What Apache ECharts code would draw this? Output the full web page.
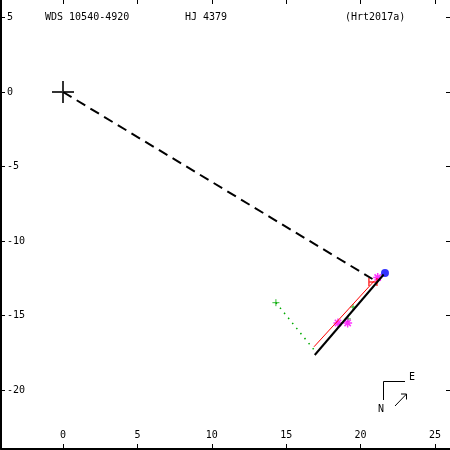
<!DOCTYPE html>
<html><head><meta charset="utf-8">
<script src="https://cdn.jsdelivr.net/npm/echarts@6/dist/echarts.min.js"></script>
<style>html,body{margin:0;padding:0;background:#fff}#c{width:450px;height:450px}</style>
</head><body><div id="c"></div>
<script>
var xTicks = [0, 5, 10, 15, 20, 25];
var yTicks = [5, 0, -5, -10, -15, -20];
var origin = [[0, 0]];
var dashedLine = [[0, 0], [20.8, -12.55]];
var primary = [[21.64, -12.15]];
var orbitArc = [[16.92, -17.65], [21.55, -12.25]];
var redLine = [[16.87, -17.1], [20.9, -12.7]];
var redMark = [[20.83, -12.75]];
var magentaStars = [[18.48, -15.5], [19.13, -15.5], [21.15, -12.45]];
var greenPlus = [[14.31, -14.14]];
var greenDotted = [[14.31, -14.14], [16.87, -17.3]];
var greenMarks = [[19.49, -14.43], [19.15, -15.23]];

var font = 'DejaVu Sans Mono';
var chart = echarts.init(document.getElementById('c'));
var lineStyleOnly = function (c, w) { return { color: 'none', borderColor: c, borderWidth: w }; };
chart.setOption({
  animation: false,
  backgroundColor: '#fff',
  grid: { left: 1, right: 0, top: 0, bottom: 1 },
  xAxis: [
    { type: 'value', position: 'bottom', min: -4.167, max: 26.01,
      axisLine: { show: true, onZero: false, lineStyle: { color: '#000', width: 2 } },
      axisTick: { show: true, inside: true, length: 5, customValues: xTicks, lineStyle: { color: '#000' } },
      axisLabel: { show: true, inside: true, margin: 9, customValues: xTicks, color: '#000', fontFamily: font, fontSize: 10 },
      splitLine: { show: false } },
    { type: 'value', position: 'top', min: -4.167, max: 26.01,
      axisLine: { show: false, onZero: false },
      axisTick: { show: true, inside: true, length: 4, customValues: xTicks, lineStyle: { color: '#000' } },
      axisLabel: { show: false }, splitLine: { show: false } }
  ],
  yAxis: [
    { type: 'value', position: 'left', min: -23.96, max: 6.174,
      axisLine: { show: true, onZero: false, lineStyle: { color: '#000', width: 2 } },
      axisTick: { show: true, inside: true, length: 4, customValues: yTicks, lineStyle: { color: '#000' } },
      axisLabel: { show: true, inside: true, margin: 6, customValues: yTicks, color: '#000', fontFamily: font, fontSize: 10 },
      splitLine: { show: false } },
    { type: 'value', position: 'right', min: -23.96, max: 6.174,
      axisLine: { show: false, onZero: false },
      axisTick: { show: true, inside: true, length: 4, customValues: yTicks, lineStyle: { color: '#000' } },
      axisLabel: { show: false }, splitLine: { show: false } }
  ],
  series: [
    { type: 'line', data: dashedLine, symbol: 'none', lineStyle: { color: '#000', width: 2, type: [10, 6] } },
    { type: 'line', data: greenDotted, symbol: 'none', lineStyle: { color: '#00aa00', width: 1.5, type: [1.5, 5] } },
    { type: 'line', data: orbitArc, symbol: 'none', lineStyle: { color: '#000', width: 2 } },
    { type: 'line', data: redLine, symbol: 'none', lineStyle: { color: '#ff0000', width: 1 } },
    { type: 'scatter', data: origin, symbol: 'path://M0,10 L20,10 M10,0 L10,20', symbolSize: 22, itemStyle: lineStyleOnly('#000', 2) },
    { type: 'scatter', data: greenPlus, symbol: 'path://M0,5 L10,5 M5,0 L5,10', symbolSize: 7, itemStyle: lineStyleOnly('#00aa00', 1) },
    { type: 'scatter', data: greenMarks, symbol: 'path://M0,5 L10,5 M5,0 L5,10', symbolSize: 6, itemStyle: lineStyleOnly('#00aa00', 1) },
    { type: 'scatter', data: magentaStars, symbol: 'path://M0,5 L10,5 M5,0 L5,10 M1.5,1.5 L8.5,8.5 M8.5,1.5 L1.5,8.5', symbolSize: 9, itemStyle: lineStyleOnly('#ff00ff', 1.5) },
    { type: 'scatter', data: redMark, symbol: 'path://M0,0 L0,10 M10,0 L10,10 M0,5 L10,5', symbolSize: 8, symbolRotate: 0, itemStyle: lineStyleOnly('#ff0000', 1.5) },
    { type: 'scatter', data: primary, symbol: 'circle', symbolSize: 8, itemStyle: { color: '#0000ff' } }
  ],
  graphic: [
    { type: 'text', left: 45, top: 12, style: { text: 'WDS 10540-4920', font: '10px ' + font, fill: '#000' } },
    { type: 'text', left: 185, top: 12, style: { text: 'HJ 4379', font: '10px ' + font, fill: '#000' } },
    { type: 'text', left: 345, top: 12, style: { text: '(Hrt2017a)', font: '10px ' + font, fill: '#000' } },
    { type: 'polyline', shape: { points: [[405, 381.5], [383.5, 381.5], [383.5, 400]] }, style: { stroke: '#000', lineWidth: 1, fill: null } },
    { type: 'text', left: 409, top: 372, style: { text: 'E', font: '10px ' + font, fill: '#000' } },
    { type: 'text', left: 378, top: 404, style: { text: 'N', font: '10px ' + font, fill: '#000' } },
    { type: 'line', shape: { x1: 395, y1: 406, x2: 406.5, y2: 394 }, style: { stroke: '#000', lineWidth: 1 } },
    { type: 'polyline', shape: { points: [[401, 394], [406.5, 394], [406.5, 399.5]] }, style: { stroke: '#000', lineWidth: 1, fill: null } }
  ]
});
</script></body></html>
